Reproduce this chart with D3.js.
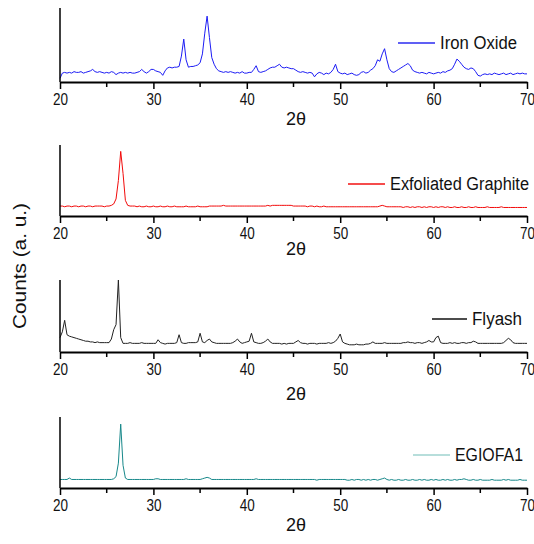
<!DOCTYPE html>
<html>
<head>
<meta charset="utf-8">
<script src="https://cdn.jsdelivr.net/npm/d3@7"></script>
<style>
  body { margin: 0; background: #fff; }
  text { font-family: "Liberation Sans", Arial, sans-serif; fill: #111; }
</style>
</head>
<body>
<div id="chart"></div>
<script>
// XRD patterns, sampled every 0.25 deg from 20 to 70 (2theta), intensity in a.u.
const twoTheta = d3.range(0, 201).map(i => 20 + i * 0.25);
const xTicks = [20, 30, 40, 50, 60, 70];
const xMinorTicks = [25, 35, 45, 55, 65];

const ironOxide = [
  5, 12, 13, 12,   13, 12, 14, 13,   13, 14, 12, 13,   14, 15, 17, 14,   13, 14, 13, 12,
  13, 12, 14, 13,  10, 12, 13, 12,   13, 12, 13, 12,   12, 13, 14, 17,   14, 12, 14, 17,
  17, 15, 14, 13,  9, 15, 19, 20,    19, 20, 20, 21,   35, 58, 30, 20,   21, 21, 22, 23,
  26, 38, 66, 89,  60, 33, 24, 18,   15, 14, 13, 14,   13, 14, 13, 12,   13, 12, 14, 12,
  12, 13, 13, 17,  22, 14, 13, 14,   15, 17, 19, 20,   20, 22, 24, 20,   19, 20, 19, 18,
  18, 16, 14, 13,  14, 13, 12, 13,   12, 7, 11, 13,    12, 10, 12, 11,   13, 17, 24, 14,
  12, 11, 12, 10,  11, 12, 10, 9,    10, 13, 14, 12,   13, 16, 18, 22,   30, 28, 38, 45,
  30, 18, 14, 13,  15, 17, 19, 21,   23, 25, 22, 16,   14, 13, 12, 13,   12, 11, 13, 12,
  11, 12, 13, 12,  14, 13, 15, 16,   18, 24, 31, 28,   24, 20, 18, 17,   19, 18, 14, 9,
  8, 10, 11, 10,   11, 10, 12, 11,   10, 11, 12, 10,   11, 12, 10, 11,   12, 11, 12, 11,
  11
];

const graphite = [
  14, 14, 13, 14,  14, 13, 14, 14,   13, 14, 14, 13,   14, 14, 13, 14,   14, 14, 14, 13,
  14, 14, 15, 17,  24, 50, 91, 60,   22, 15, 14, 14,   14, 13, 14, 13,   13, 14, 13, 13,
  14, 13, 13, 14,  13, 13, 14, 13,   13, 14, 13, 13,   13, 13, 14, 13,   13, 13, 13, 14,
  13, 13, 13, 13,  14, 14, 14, 14,   14, 14, 15, 14,   14, 14, 14, 14,   14, 14, 14, 14,
  14, 14, 14, 14,  14, 14, 14, 14,   14, 15, 14, 15,   15, 15, 15, 15,   15, 15, 15, 15,
  14, 14, 14, 14,  14, 14, 13, 14,   14, 13, 14, 13,   13, 14, 13, 13,   13, 13, 13, 13,
  13, 13, 13, 13,  13, 13, 13, 13,   13, 13, 13, 13,   13, 13, 13, 13,   13, 14, 15, 14,
  13, 13, 13, 13,  13, 13, 13, 12,   13, 13, 12, 13,   12, 13, 13, 12,   13, 12, 13, 13,
  12, 13, 12, 13,  13, 12, 13, 12,   12, 13, 12, 12,   13, 12, 12, 13,   12, 12, 13, 12,
  12, 12, 12, 13,  12, 12, 12, 12,   12, 13, 12, 12,   12, 12, 12, 12,   12, 12, 12, 12,
  12
];

const flyash = [
  20, 28, 44, 24,  22, 21, 20, 19,   18, 17, 16, 15,   15, 14, 14, 13,   14, 13, 13, 13,
  13, 13, 18, 31,  38, 100, 20, 12,  12, 12, 13, 12,   12, 12, 12, 13,   12, 12, 12, 12,
  12, 12, 17, 13,  12, 11, 12, 12,   12, 12, 13, 24,   13, 12, 12, 13,   13, 13, 13, 14,
  26, 14, 13, 16,  18, 14, 13, 12,   12, 12, 12, 12,   12, 12, 13, 15,   18, 14, 12, 13,
  14, 15, 26, 14,  13, 12, 12, 13,   15, 18, 14, 12,   12, 12, 12, 11,   12, 11, 12, 12,
  12, 14, 16, 13,  12, 12, 11, 12,   12, 12, 11, 12,   12, 12, 12, 13,   12, 13, 15, 19,
  25, 14, 12, 11,  10, 10, 10, 11,   10, 10, 10, 11,   11, 12, 14, 12,   12, 12, 12, 13,
  12, 12, 12, 12,  12, 12, 12, 13,   13, 14, 13, 13,   12, 13, 13, 12,   13, 14, 16, 14,
  14, 20, 22, 13,  12, 12, 12, 13,   12, 13, 12, 12,   13, 13, 12, 13,   13, 15, 14, 12,
  12, 12, 12, 12,  12, 12, 12, 12,   12, 12, 13, 16,   19, 17, 13, 12,   12, 12, 12, 12,
  12
];

const egiofa1 = [
  12, 12, 12, 12,  14, 12, 12, 12,   12, 12, 12, 12,   12, 12, 12, 12,   12, 12, 12, 12,
  12, 12, 12, 13,  16, 35, 90, 32,   14, 12, 12, 12,   12, 12, 12, 12,   12, 12, 12, 12,
  12, 13, 13, 12,  12, 12, 12, 12,   12, 12, 12, 12,   12, 12, 13, 12,   12, 12, 12, 12,
  12, 13, 14, 15,  14, 12, 12, 12,   12, 12, 12, 12,   12, 12, 12, 12,   12, 12, 12, 12,
  12, 12, 12, 12,  13, 12, 12, 12,   12, 12, 12, 12,   12, 12, 12, 12,   12, 12, 12, 12,
  12, 12, 12, 12,  12, 12, 12, 12,   12, 12, 11, 12,   12, 12, 12, 12,   12, 12, 12, 12,
  12, 12, 12, 11,  11, 12, 11, 12,   12, 11, 12, 11,   12, 11, 12, 12,   11, 12, 13, 14,
  12, 11, 12, 11,  11, 12, 11, 11,   12, 11, 11, 12,   11, 11, 12, 11,   12, 11, 11, 12,
  11, 12, 11, 11,  12, 11, 12, 11,   11, 12, 11, 12,   12, 13, 12, 11,   11, 12, 11, 11,
  12, 11, 11, 11,  11, 12, 11, 11,   11, 11, 12, 11,   12, 11, 11, 11,   11, 12, 11, 11,
  11
];

const seriesNames = ["Iron Oxide", "Exfoliated Graphite", "Flyash", "EGIOFA1"];
const seriesValues = [ironOxide, graphite, flyash, egiofa1];

const W = 534, H = 544;
const left = 60, right = 527;

// layout for each stacked panel
const panels = [
  {top: 8,   axis: 82,  color: "#1c1cf5", legColor: "#2b2bf0", legX: 398, legY: 43,  legLen: 37, labelDy: 43, textLen: 77},
  {top: 145, axis: 216, color: "#f20a0a", legColor: "#f21010", legX: 348, legY: 184, legLen: 37, labelDy: 39, textLen: 139},
  {top: 280, axis: 352, color: "#222222", legColor: "#111111", legX: 432, legY: 319, legLen: 35, labelDy: 48, textLen: 50},
  {top: 417, axis: 488, color: "#17888a", legColor: "#9fd3cf", legX: 413, legY: 455, legLen: 37, labelDy: 43, textLen: 68}
];

const svg = d3.select("#chart").append("svg")
  .attr("width", W)
  .attr("height", H);

const x = d3.scaleLinear().domain([20, 70]).range([left, right]);

panels.forEach((p, i) => {
  const y = d3.scaleLinear().domain([0, 100]).range([p.axis, p.top]);
  const g = svg.append("g");

  const line = d3.line()
    .x((d, j) => x(twoTheta[j]))
    .y(d => y(d));

  g.append("path")
    .datum(seriesValues[i])
    .attr("fill", "none")
    .attr("stroke", p.color)
    .attr("stroke-width", 1)
    .attr("stroke-linejoin", "round")
    .attr("d", line);

  // left axis line (no ticks)
  g.append("line")
    .attr("x1", left).attr("x2", left)
    .attr("y1", p.top).attr("y2", p.axis)
    .attr("stroke", "#000")
    .attr("stroke-width", 1.5);

  // bottom axis
  const ax = g.append("g")
    .attr("transform", `translate(0,${p.axis})`)
    .call(d3.axisBottom(x).tickValues(xTicks).tickSize(7).tickSizeOuter(0).tickPadding(5).tickFormat(d3.format("d")));
  ax.select(".domain").attr("stroke-width", 2);
  ax.selectAll(".tick line").attr("stroke-width", 1.5);
  ax.selectAll("text")
    .attr("font-size", 16)
    .attr("font-family", "Liberation Sans, Arial, sans-serif")
    .attr("textLength", 15)
    .attr("lengthAdjust", "spacingAndGlyphs")
    .attr("fill", "#111");

  g.append("g")
    .attr("transform", `translate(0,${p.axis})`)
    .selectAll("line")
    .data(xMinorTicks)
    .join("line")
    .attr("x1", d => x(d)).attr("x2", d => x(d))
    .attr("y1", 0).attr("y2", 5)
    .attr("stroke", "#000")
    .attr("stroke-width", 1.5);

  // axis title
  g.append("text")
    .attr("x", 296)
    .attr("y", p.axis + p.labelDy)
    .attr("text-anchor", "middle")
    .attr("font-size", 18)
    .text("2θ");

  // legend
  g.append("line")
    .attr("x1", p.legX).attr("x2", p.legX + p.legLen)
    .attr("y1", p.legY).attr("y2", p.legY)
    .attr("stroke", p.legColor)
    .attr("stroke-width", 1.3);

  g.append("text")
    .attr("x", p.legX + p.legLen + 5)
    .attr("y", p.legY + 6)
    .attr("font-size", 18)
    .attr("textLength", p.textLen)
    .attr("lengthAdjust", "spacingAndGlyphs")
    .text(seriesNames[i]);
});

svg.append("text")
  .attr("transform", "translate(26,266) rotate(-90)")
  .attr("text-anchor", "middle")
  .attr("font-size", 18)
  .attr("textLength", 126)
  .attr("lengthAdjust", "spacingAndGlyphs")
  .text("Counts (a. u.)");
</script>
</body>
</html>
